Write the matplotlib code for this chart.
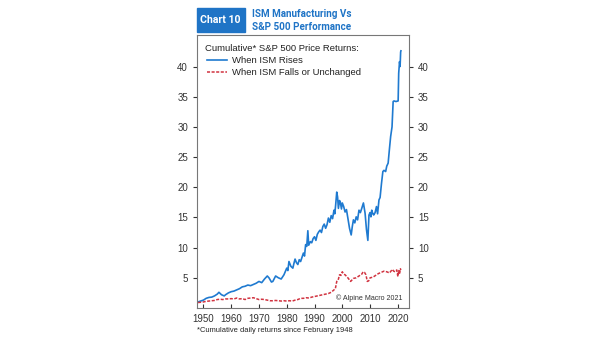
import matplotlib.pyplot as plt
from matplotlib.patches import Rectangle

# cumulative S&P 500 price returns, split by ISM direction
years_rise = [1948.1, 1949.0, 1950.0, 1951.0, 1952.0, 1953.0, 1954.0, 1955.0, 1955.6, 1956.5, 1957.5,
              1958.0, 1959.0, 1960.0, 1961.0, 1962.0, 1963.0, 1964.0, 1965.0, 1966.0, 1967.0,
              1968.0, 1969.0, 1970.0, 1971.0, 1972.0, 1973.0, 1973.6, 1974.5, 1975.0, 1976.0,
              1977.0, 1978.0, 1979.0, 1980.0, 1980.4, 1980.8, 1981.5, 1982.2, 1982.6, 1983.0,
              1983.5, 1984.0, 1984.5, 1985.0, 1985.5, 1986.0, 1986.4, 1986.8, 1987.2, 1987.6,
              1987.9, 1988.5, 1989.0, 1989.5, 1990.0, 1990.5, 1991.0, 1991.5, 1992.0, 1992.5,
              1993.0, 1993.5, 1994.0, 1994.5, 1995.0, 1995.5, 1996.0, 1996.5, 1997.0, 1997.3,
              1997.6, 1998.0, 1998.3, 1998.6, 1999.0, 1999.3, 1999.7, 2000.0, 2000.5, 2001.0,
              2001.5, 2002.0, 2002.6, 2003.2, 2003.6, 2004.0, 2004.5, 2005.0, 2005.5, 2006.0,
              2006.5, 2007.0, 2007.6, 2008.2, 2008.7, 2009.2, 2009.6, 2010.0, 2010.3, 2010.6,
              2011.0, 2011.3, 2011.8, 2012.3, 2012.7, 2013.2, 2013.6, 2014.1, 2014.6, 2015.0,
              2015.6, 2016.0, 2016.5, 2017.0, 2017.4, 2017.9, 2018.3, 2018.6, 2019.3, 2020.1,
              2020.3, 2020.6, 2020.8, 2021.0, 2021.1]
ism_rises = [1.0, 1.15, 1.3, 1.6, 1.75, 1.8, 2.0, 2.3, 2.6, 2.2, 2.0,
             2.2, 2.5, 2.7, 2.8, 3.0, 3.2, 3.5, 3.6, 3.8, 3.7,
             3.9, 4.1, 4.4, 4.2, 4.8, 5.3, 5.0, 4.3, 4.4, 5.3,
             5.0, 4.8, 5.5, 6.6, 6.2, 7.7, 6.9, 6.6, 7.4, 8.1,
             7.5, 7.2, 8.0, 7.7, 8.4, 9.1, 8.6, 10.5, 10.2, 12.8,
             10.4, 11.0, 10.8, 11.5, 11.8, 11.2, 12.2, 12.6, 12.9, 12.5,
             13.5, 13.9, 13.2, 13.8, 14.9, 14.2, 15.3, 14.8, 16.2, 15.6,
             17.0, 19.2, 18.4, 16.5, 17.8, 17.5, 16.4, 17.4, 16.8, 15.9,
             16.3, 14.9, 13.2, 12.1, 13.5, 14.6, 14.1, 15.1, 14.6, 16.2,
             15.8, 16.5, 17.4, 15.7, 13.0, 11.2, 15.4, 15.8, 15.1, 16.2,
             15.6, 15.4, 15.8, 16.8, 15.6, 17.9, 18.3, 20.6, 22.6, 22.8,
             22.6, 23.5, 24.0, 26.5, 28.4, 30.0, 34.2, 34.3, 34.2, 34.3,
             38.9, 40.8, 40.0, 42.4, 42.6]

years_fall = [1948.1, 1949.0, 1950.0, 1951.0, 1952.0, 1953.0, 1954.0, 1955.0, 1956.0, 1957.0,
              1958.0, 1959.0, 1960.0, 1961.0, 1962.0, 1963.0, 1964.0, 1965.0, 1966.0, 1967.0,
              1968.0, 1969.0, 1970.0, 1971.0, 1972.0, 1973.0, 1974.0, 1975.0, 1976.0, 1977.0,
              1978.0, 1979.0, 1980.0, 1981.0, 1982.0, 1983.0, 1984.0, 1985.0, 1986.0, 1987.0,
              1988.0, 1989.0, 1990.0, 1991.0, 1992.0, 1993.0, 1994.0, 1995.0, 1996.0, 1997.0,
              1997.5, 1998.0, 1998.5, 1999.0, 1999.5, 2000.0, 2000.5, 2001.0, 2002.0, 2003.0,
              2004.0, 2005.0, 2006.0, 2007.0, 2007.5, 2008.0, 2008.5, 2009.0, 2009.5, 2010.0,
              2011.0, 2012.0, 2013.0, 2014.0, 2015.0, 2016.0, 2017.0, 2018.0, 2018.5, 2019.0,
              2019.6, 2020.0, 2020.3, 2020.6, 2020.9, 2021.1]
ism_falls = [0.9, 0.95, 1.0, 1.1, 1.15, 1.2, 1.25, 1.4, 1.45, 1.4,
             1.5, 1.5, 1.55, 1.5, 1.65, 1.5, 1.55, 1.4, 1.6, 1.65,
             1.7, 1.55, 1.4, 1.45, 1.4, 1.3, 1.2, 1.2, 1.25, 1.2,
             1.15, 1.2, 1.15, 1.2, 1.15, 1.3, 1.4, 1.6, 1.6, 1.7,
             1.65, 1.8, 1.9, 2.0, 2.1, 2.2, 2.3, 2.4, 2.6, 3.0,
             3.2, 4.4, 4.6, 5.5, 5.4, 6.0, 5.6, 5.5, 5.0, 4.4,
             4.9, 5.0, 5.3, 5.6, 6.0, 5.9, 5.5, 4.4, 4.5, 5.0,
             5.1, 5.4, 5.7, 5.9, 6.1, 6.0, 5.8, 6.4, 6.1, 6.0,
             6.3, 5.2, 6.2, 5.6, 6.5, 6.3]

blue = "#1f7ad0"
red = "#d13340"
font = "Liberation Sans"

fig = plt.figure(figsize=(6.05, 3.41), dpi=100)
ax = fig.add_axes([0.3256, 0.0968, 0.3504, 0.8002])

ax.plot(years_rise, ism_rises, color=blue, lw=1.2)
ax.plot(years_fall, ism_falls, color=red, lw=1.1, ls=(0, (2, 1)))

ax.set_xlim(1947.7, 2024)
ax.set_ylim(0, 45.2)
ax.set_xticks(range(1950, 2021, 10))
ax.set_yticks(range(5, 41, 5))
ax.tick_params(axis="x", direction="in", length=3, labelsize=7, colors="#333333", pad=4)
ax.tick_params(axis="y", direction="out", length=3, labelsize=7, colors="#333333",
               left=True, right=True, labelleft=True, labelright=True)
for lbl in ax.get_xticklabels() + ax.get_yticklabels():
    lbl.set_fontfamily(font)
for sp in ax.spines.values():
    sp.set_color("#777777")
    sp.set_linewidth(0.8)

# legend drawn by hand in axes coordinates
ax.text(0.04, 0.952, "Cumulative* S&P 500 Price Returns:", transform=ax.transAxes,
        fontsize=6.8, family=font, va="center", color="#222222")
ax.plot([0.045, 0.14], [0.908, 0.908], transform=ax.transAxes, color=blue, lw=1.2)
ax.text(0.165, 0.908, "When ISM Rises", transform=ax.transAxes, fontsize=6.8,
        family=font, va="center", color="#222222")
ax.plot([0.045, 0.14], [0.864, 0.864], transform=ax.transAxes, color=red, lw=1.1,
        ls=(0, (2, 1)))
ax.text(0.165, 0.864, "When ISM Falls or Unchanged", transform=ax.transAxes,
        fontsize=6.8, family=font, va="center", color="#222222")

ax.text(0.97, 0.036, "© Alpine Macro 2021", transform=ax.transAxes, fontsize=5.1,
        family=font, ha="right", va="center", color="#333333")

# header box
fig.patches.append(Rectangle((196.5 / 605, 1 - 32 / 341), 48.5 / 605, 23.5 / 341,
                             transform=fig.transFigure, color="#1f74c6", zorder=0))
fig.text(220.5 / 605, 1 - 20 / 341, "Chart 10", color="white", fontsize=7.6,
         fontweight="bold", family="Roboto", ha="center", va="center")
fig.text(252 / 605, 1 - 14 / 341, "ISM Manufacturing Vs", color="#1f74c6", fontsize=7.1,
         fontweight="bold", family="Roboto", ha="left", va="center")
fig.text(252 / 605, 1 - 27 / 341, "S&P 500 Performance", color="#1f74c6", fontsize=7.1,
         fontweight="bold", family="Roboto", ha="left", va="center")

fig.text(197 / 605, 1 - 330 / 341, "*Cumulative daily returns since February 1948",
         fontsize=5.4, family=font, color="#222222", ha="left", va="center")

fig.savefig("out.png", dpi=100)
